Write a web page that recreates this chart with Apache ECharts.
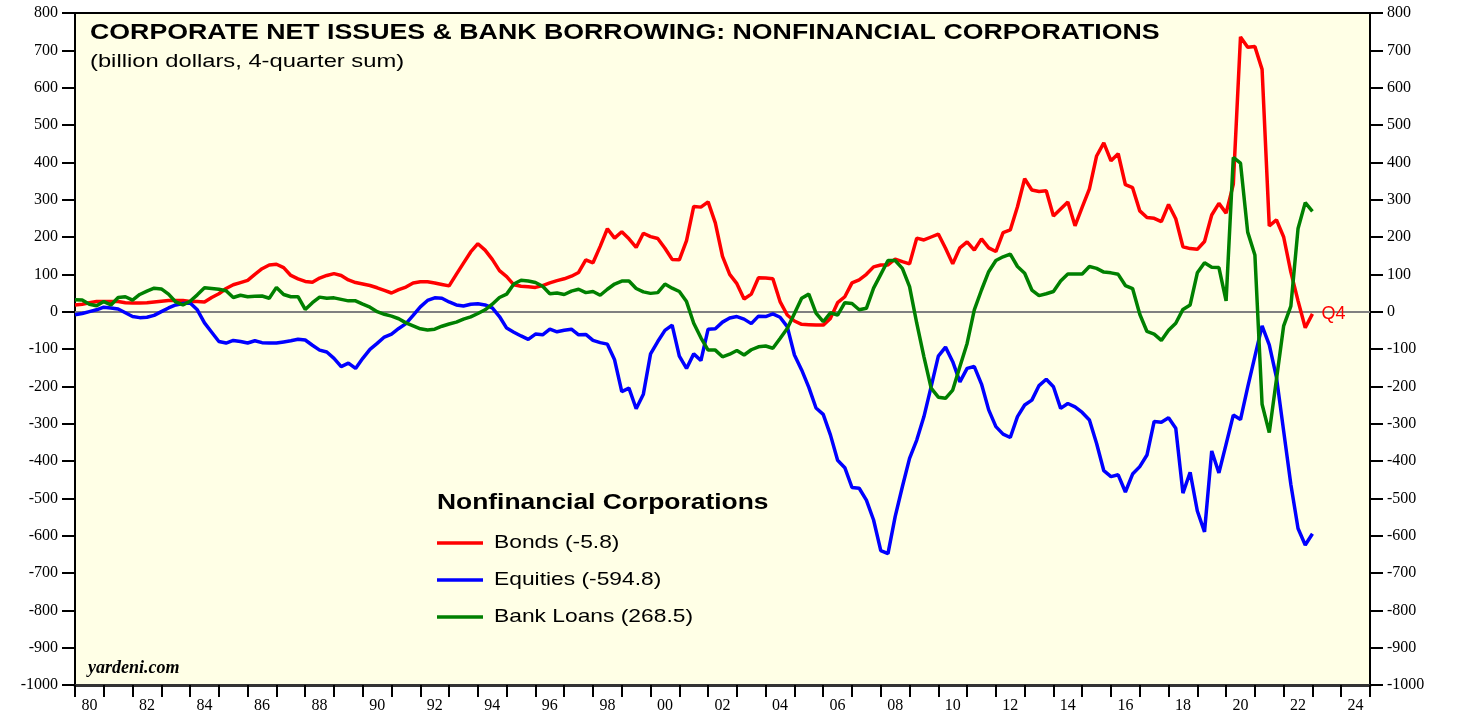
<!DOCTYPE html>
<html>
<head>
<meta charset="utf-8">
<title>Corporate Net Issues & Bank Borrowing</title>
<script src="https://cdn.jsdelivr.net/npm/echarts@6/dist/echarts.min.js"></script>
<style>
  html, body { margin: 0; padding: 0; background: #fff; }
  #chart { width: 1458px; height: 717px; }
</style>
</head>
<body>
<div id="chart"></div>
<script>
// quarterly 4-quarter sums, 1979Q4 .. 2022Q4 (billion dollars)
const startYear = 1979;
const startQuarter = 4;

const bonds = [
  18,
  20, 24, 27, 27,   27, 27, 24, 23,   23, 24, 26, 28,   30, 30, 30, 27,   // 80-83
  27, 26, 38, 48,   62, 72, 78, 84,   100, 115, 125, 127,   118, 97, 88, 81,   // 84-87
  79, 90, 97, 102,   97, 85, 78, 74,   70, 64, 57, 50,   59, 66, 77, 80,   // 88-91
  80, 77, 73, 69,   100, 130, 160, 182,   165, 140, 110, 94,   72, 68, 67, 65,   // 92-95
  70, 77, 83, 88,   95, 105, 139, 131,   175, 222, 197, 214,   195, 172, 210, 201,   // 96-99
  196, 170, 140, 139,   190, 282, 280, 294,   238, 148, 100, 75,   34, 47, 91, 90,   // 00-03
  88, 27, -9, -25,   -34, -35, -36, -36,   -18, 24, 40, 77,   85, 100, 120, 125,   // 04-07
  125, 141, 134, 128,   197, 192, 200, 208,   170, 128, 171, 187,   165, 195, 171, 161,   // 08-11
  212, 219, 281, 356,   326, 322, 324, 256,   275, 294, 230, 280,   329, 417, 452, 404,   // 12-15
  423, 340, 332, 270,   252, 250, 241, 287,   249, 174, 169, 167,   188, 259, 290, 264,   // 16-19
  341, 736, 708, 710,   649, 230, 246, 200,   106, 29, -43, -5.8   // 20-22
];

const equities = [
  -8,
  -5, 0, 5, 12,   10, 7, -3, -13,   -16, -15, -10, 0,   10, 18, 22, 23,
  5, -30, -55, -80,   -84, -77, -80, -84,   -78, -83, -84, -84,   -81, -78, -74, -76,
  -90, -103, -108, -125,   -147, -138, -152, -125,   -101, -85, -68, -60,   -45, -32, -10, 13,
  30, 37, 36, 26,   18, 15, 20, 21,   18, 10, -13, -44,   -55, -65, -74, -60,
  -62, -47, -54, -50,   -47, -62, -61, -77,   -83, -87, -129, -214,   -205, -260, -221, -113,
  -80, -50, -36, -119,   -152, -113, -131, -47,   -46, -28, -17, -13,   -20, -32, -12, -13,
  -6, -15, -40, -116,   -156, -203, -258, -275,   -330, -398, -418, -471,   -473, -505, -558, -640,
  -648, -549, -469, -393,   -344, -281, -201, -119,   -95, -134, -188, -152,   -147, -194, -263, -308,
  -328, -337, -281, -250,   -237, -198, -181, -201,   -259, -246, -255, -270,   -290, -353, -426, -442,
  -437, -483, -435, -415,   -384, -294, -296, -284,   -312, -486, -430, -534,   -590, -373, -432, -355,
  -277, -289, -202, -120,   -38, -89, -176, -320,   -463, -581, -625, -594.8
];

const bankLoans = [
  32,
  31, 20, 16, 27,   18, 38, 40, 31,   46, 55, 63, 61,   47, 26, 18, 28,
  45, 64, 62, 60,   56, 38, 44, 40,   41, 42, 36, 65,   46, 40, 40, 6,
  24, 39, 36, 37,   33, 29, 29, 20,   12, 0, -7, -12,   -19, -30, -38, -46,
  -49, -47, -39, -33,   -28, -20, -14, -5,   5, 20, 38, 47,   74, 84, 82, 78,
  68, 48, 50, 46,   55, 60, 51, 54,   44, 60, 74, 82,   82, 62, 53, 49,
  51, 74, 63, 54,   27, -31, -70, -103,   -103, -121, -114, -104,   -116, -102, -94, -92,
  -98, -72, -45, -5,   36, 47, -4, -27,   -3, -9, 24, 22,   5, 9, 63, 100,
  137, 137, 116, 67,   -31, -121, -205, -229,   -232, -210, -147, -85,   5, 58, 107, 137,
  147, 154, 121, 103,   58, 43, 48, 54,   82, 101, 101, 101,   121, 116, 106, 104,
  100, 70, 62, -7,   -53, -60, -77, -50,   -31, 6, 18, 104,   131, 119, 118, 29,
  413, 398, 213, 152,   -248, -324, -181, -38,   15, 223, 292, 268.5
];

const seriesNames = ['Bonds (-5.8)', 'Equities (-594.8)', 'Bank Loans (268.5)'];
const seriesColors = ['#FF0000', '#0000FF', '#008000'];

const yearLabels = [];
for (let y = 1980; y <= 2024; y++) yearLabels.push(String(y).slice(2));

function toPoints(values) {
  return values.map((v, i) => [startYear + (startQuarter + i) / 4, v]);
}

const serifFont = '"Liberation Serif", "DejaVu Serif", serif';
const sansFont = '"Liberation Sans", Arial, sans-serif';

const chart = echarts.init(document.getElementById('chart'), null, { renderer: 'canvas' });

const yAxisBase = {
  type: 'value',
  min: -1000,
  max: 800,
  interval: 100,
  axisLine: { show: true, onZero: false, lineStyle: { color: '#000', width: 2 } },
  axisTick: { show: true, inside: false, length: 13, lineStyle: { color: '#000', width: 2 } },
  splitLine: { show: false },
  axisLabel: {
    color: '#000', fontFamily: serifFont, fontSize: 16, margin: 17,
    formatter: (v) => String(v)
  }
};

// legend drawn by hand so the text can be widened like the original
const legendItems = [];
seriesNames.forEach((name, i) => {
  const y = 543 + i * 37;
  legendItems.push({
    type: 'line',
    shape: { x1: 437, y1: y, x2: 483, y2: y },
    style: { stroke: seriesColors[i], lineWidth: 3.5 }
  });
  legendItems.push({
    type: 'text', x: 494, y: y, scaleX: 1.2,
    style: { text: name, font: '19px ' + sansFont, fill: '#000', textVerticalAlign: 'middle' }
  });
});

chart.setOption({
  animation: false,
  backgroundColor: '#fff',
  grid: {
    left: 75, right: 88, top: 13, bottom: 32,
    show: true,
    backgroundColor: '#FFFFE6',
    borderColor: '#000',
    borderWidth: 2
  },
  xAxis: [
    {
      type: 'value',
      min: 1980,
      max: 2025,
      show: false
    },
    {
      type: 'category',
      data: yearLabels,
      position: 'bottom',
      boundaryGap: true,
      axisLine: { show: true, onZero: false, lineStyle: { color: '#333', width: 3 } },
      axisTick: { show: true, interval: 0, length: 12, lineStyle: { color: '#000', width: 2 } },
      axisLabel: { interval: 1, color: '#000', fontFamily: serifFont, fontSize: 16, margin: 13 }
    }
  ],
  yAxis: [
    Object.assign({}, yAxisBase, { position: 'left' }),
    Object.assign({}, yAxisBase, { position: 'right' })
  ],
  graphic: [
    {
      type: 'text', x: 90, y: 33, scaleX: 1.215,
      style: {
        text: 'CORPORATE NET ISSUES & BANK BORROWING: NONFINANCIAL CORPORATIONS',
        font: 'bold 22px ' + sansFont, fill: '#000', textVerticalAlign: 'middle'
      }
    },
    {
      type: 'text', x: 90, y: 62, scaleX: 1.25,
      style: {
        text: '(billion dollars, 4-quarter sum)', font: '19px ' + sansFont,
        fill: '#000', textVerticalAlign: 'middle'
      }
    },
    {
      type: 'text', x: 437, y: 503, scaleX: 1.2,
      style: {
        text: 'Nonfinancial Corporations', font: 'bold 22px ' + sansFont,
        fill: '#000', textVerticalAlign: 'middle'
      }
    },
    {
      type: 'text', x: 88, y: 668,
      style: {
        text: 'yardeni.com', font: 'italic bold 18px ' + serifFont,
        fill: '#000', textVerticalAlign: 'middle'
      }
    }
  ].concat(legendItems),
  series: [
    {
      name: seriesNames[0],
      type: 'line',
      data: toPoints(bonds),
      showSymbol: false,
      color: seriesColors[0],
      lineStyle: { color: seriesColors[0], width: 3.5 },
      z: 3,
      endLabel: {
        show: true, formatter: 'Q4', color: seriesColors[0],
        fontFamily: sansFont, fontSize: 18, distance: 9
      },
      markLine: {
        silent: true,
        symbol: 'none',
        label: { show: false },
        lineStyle: { color: '#808080', width: 2, type: 'solid' },
        data: [{ yAxis: 0 }],
        z: 1
      }
    },
    {
      name: seriesNames[1],
      type: 'line',
      data: toPoints(equities),
      showSymbol: false,
      color: seriesColors[1],
      lineStyle: { color: seriesColors[1], width: 3.5 },
      z: 4
    },
    {
      name: seriesNames[2],
      type: 'line',
      data: toPoints(bankLoans),
      showSymbol: false,
      color: seriesColors[2],
      lineStyle: { color: seriesColors[2], width: 3.5 },
      z: 5
    }
  ]
});
</script>
</body>
</html>
